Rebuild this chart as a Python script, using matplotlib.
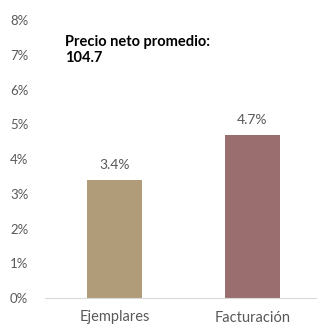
import matplotlib
matplotlib.use('Agg')
import matplotlib.pyplot as plt

categories = ['Ejemplares', 'Facturación']
values = [3.4, 4.7]
bar_colors = ['#B09C78', '#9A6E6E']
yticks = [0, 1, 2, 3, 4, 5, 6, 7, 8]
note = 'Precio neto promedio:\n104.7'

TEXT = '#595959'

plt.rcParams['font.family'] = ['Lato', 'DejaVu Sans']

fig = plt.figure(figsize=(3.17, 3.26), dpi=100, facecolor='white')
ax = fig.add_axes([45 / 317, 28 / 326, 272 / 317, 278 / 326])

x = list(range(len(categories)))
ax.bar(x, values, width=0.4, color=bar_colors)

for xi, v in zip(x, values):
    ax.text(xi, v + 0.25, f'{v:.1f}%', ha='center', va='bottom',
            fontsize=10, color=TEXT)

ax.text(-0.36, 7.58, note, ha='left', va='top', fontsize=10.5,
        fontweight='bold', color='black', linespacing=1.25)

ax.set_xlim(-0.505, 1.47)
ax.set_ylim(0, 8)
ax.set_yticks(yticks)
ax.set_yticklabels([f'{t}%' for t in yticks])
ax.set_xticks(x)
ax.set_xticklabels(categories)

for s in ['top', 'right', 'left']:
    ax.spines[s].set_visible(False)
ax.spines['bottom'].set_color('#D9D9D9')
ax.tick_params(axis='both', length=0, colors=TEXT, labelsize=9.5)
ax.tick_params(axis='x', labelsize=10.5, pad=9)
ax.tick_params(axis='y', pad=12)

fig.savefig('out.png', dpi=100)
